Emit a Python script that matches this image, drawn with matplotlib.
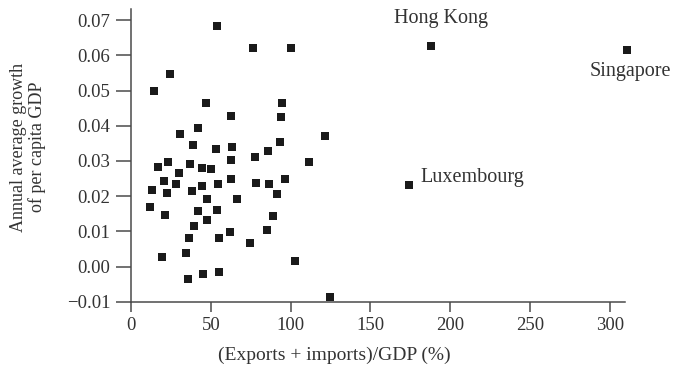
import matplotlib
matplotlib.use("Agg")
import matplotlib.pyplot as plt

# trade openness vs growth
openness = [54.1, 76.4, 100.0, 24.4, 14.4, 47.3, 94.4, 62.8, 93.8, 30.6,
            41.7, 121.7, 38.6, 53.5, 63.4, 93.6, 85.7, 77.7, 22.9, 62.8,
            111.8, 16.9, 30.4, 36.8, 44.2, 50.4, 13.2, 20.6, 28.1, 22.5,
            38.0, 44.2, 54.7, 62.8, 78.3, 86.4, 96.3, 91.3, 12.0, 21.5,
            47.9, 66.5, 41.7, 54.1, 88.8, 39.2, 47.9, 36.1, 55.4, 62.2,
            85.1, 74.6, 19.4, 34.3, 102.5, 35.5, 45.4, 55.4, 124.8]
growth = [0.0684, 0.0621, 0.0621, 0.0546, 0.0498, 0.0466, 0.0466, 0.0427, 0.0424, 0.0378,
          0.0393, 0.0370, 0.0344, 0.0333, 0.0341, 0.0355, 0.0327, 0.0310, 0.0297, 0.0302,
          0.0298, 0.0284, 0.0267, 0.0290, 0.0281, 0.0278, 0.0218, 0.0244, 0.0235, 0.0210,
          0.0215, 0.0229, 0.0235, 0.0250, 0.0238, 0.0235, 0.0250, 0.0207, 0.0170, 0.0147,
          0.0191, 0.0191, 0.0159, 0.0162, 0.0144, 0.0115, 0.0131, 0.0081, 0.0081, 0.0098,
          0.0104, 0.0067, 0.0027, 0.0038, 0.0016, -0.0036, -0.0022, -0.0016, -0.0086]

# labelled countries
names = ["Hong Kong", "Singapore", "Luxembourg"]
named_open = [188.0, 311.0, 174.0]
named_growth = [0.0627, 0.0614, 0.0233]
# label offsets in points, and alignment
label_off = [(7, 19.5), (2, -15), (8.5, 5)]
label_ha = ["center", "center", "left"]

xticks = [0, 50, 100, 150, 200, 250, 300]
yticks = [-0.01, 0.00, 0.01, 0.02, 0.03, 0.04, 0.05, 0.06, 0.07]

plt.rcParams['font.family'] = ['Liberation Serif', 'DejaVu Serif']
TXT = '#333333'
AXC = '#4a4a4a'

fig = plt.figure(figsize=(6.73, 3.68), dpi=100)
ax = fig.add_axes([0.1946, 0.1802, 0.9287 - 0.1946, 0.9747 - 0.1802])

ax.plot(openness + named_open, growth + named_growth, 's', color='#1a1a1a',
        markersize=5.8, markeredgewidth=0, clip_on=False)

for n, x, y, off, ha in zip(names, named_open, named_growth, label_off, label_ha):
    ax.annotate(n, (x, y), xytext=off, textcoords='offset points',
                ha=ha, va='center', fontsize=14.5, color=TXT,
                annotation_clip=False)

ax.set_xlim(0, 309.5)
ax.set_ylim(-0.01, 0.0731)
ax.set_xticks(xticks)
ax.set_xticklabels([str(t) for t in xticks])
ax.set_yticks(yticks)
ax.set_yticklabels([f"{t:.2f}".replace('-', '\u2212') for t in yticks])

for s in ['top', 'right']:
    ax.spines[s].set_visible(False)
for s in ['left', 'bottom']:
    ax.spines[s].set_color(AXC)
    ax.spines[s].set_linewidth(1.1)

ax.tick_params(axis='x', length=7, width=1.1, color=AXC, pad=4,
               labelsize=13.5, labelcolor=TXT)
ax.tick_params(axis='y', length=11, width=1.1, color=AXC, pad=4,
               labelsize=13.5, labelcolor=TXT)

fig.text(218 / 673, 1 - 355 / 368, "(Exports + imports)/GDP (%)",
         ha='left', va='center', fontsize=14, color=TXT)
fig.text(28 / 673, 1 - 147 / 368, "Annual average growth\nof per capita GDP",
         rotation=90, ha='center', va='center', multialignment='center',
         fontsize=13, color=TXT, linespacing=1.1)

fig.savefig('out.png', dpi=100)
